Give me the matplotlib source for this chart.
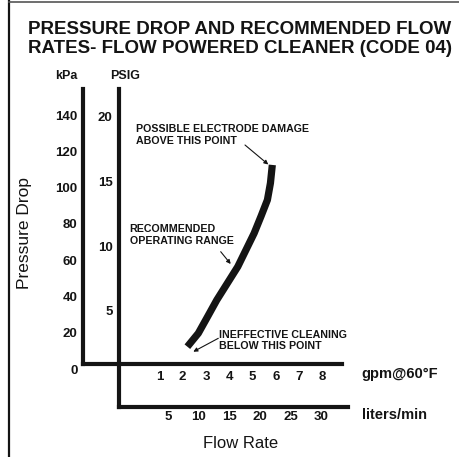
import numpy as np
import matplotlib.pyplot as plt

plt.rcParams['font.family'] = ['Liberation Sans', 'DejaVu Sans']

W, H = 459, 457

# pressure drop curve
flow_gpm = [2.20, 2.67, 3.06, 3.46, 3.92, 4.36, 4.71, 5.06, 5.36, 5.63, 5.76, 5.84]
drop_kpa = [12.3, 19.7, 28.7, 38.0, 47.4, 56.4, 65.6, 74.8, 84.3, 93.2, 102.5, 112.5]

kpa_ticks = [0, 20, 40, 60, 80, 100, 120, 140]
psi_ticks = [5, 10, 15, 20]
gpm_ticks = [1, 2, 3, 4, 5, 6, 7, 8]
lpm_ticks = [5, 10, 15, 20, 25, 30]

title = "PRESSURE DROP AND RECOMMENDED FLOW\nRATES- FLOW POWERED CLEANER (CODE 04)"
notes = ["POSSIBLE ELECTRODE DAMAGE\nABOVE THIS POINT",
         "RECOMMENDED\nOPERATING RANGE",
         "INEFFECTIVE CLEANING\nBELOW THIS POINT"]


def fx(x):
    return x / W


def fy(y):
    return 1 - y / H


def box(l, t, r, b):
    return [fx(l), fy(b), fx(r) - fx(l), fy(t) - fy(b)]


ink = '#141414'
fig = plt.figure(figsize=(W / 100, H / 100), dpi=100)

# PSIG / liters axes (drawn first, behind)
ax2 = fig.add_axes(box(119.3, 89, 348, 406.5))
ax2.set_xlim(-2.946, 34.38)
ax2.set_ylim(-2.44, 22.17)
ax2.set_xticks(lpm_ticks)
ax2.set_yticks(psi_ticks)
ax2.tick_params(length=0, labelsize=9.5, colors=ink)
ax2.tick_params(axis='x', pad=3)
ax2.tick_params(axis='y', pad=4.8)
for s in ['top', 'right']:
    ax2.spines[s].set_visible(False)
for s in ['left', 'bottom']:
    ax2.spines[s].set_linewidth(3)
    ax2.spines[s].set_color(ink)
ax2.patch.set_alpha(0)

# kPa / gpm axes
ax1 = fig.add_axes(box(82.7, 89, 342, 369))
ax1.set_xlim(-2.284, 8.826)
ax1.set_ylim(0, 154.36)
ax1.set_xticks(gpm_ticks)
ax1.set_yticks(kpa_ticks)
ax1.tick_params(length=0, labelsize=9.5, colors=ink)
ax1.tick_params(axis='x', pad=4.8)
ax1.tick_params(axis='y', pad=3.7)
for s in ['top', 'right']:
    ax1.spines[s].set_visible(False)
for s in ['left', 'bottom']:
    ax1.spines[s].set_linewidth(3)
    ax1.spines[s].set_color(ink)
ax1.spines['bottom'].set_position(('data', 2.76))
ax1.spines['left'].set_bounds(2.76, 154.36)
ax1.patch.set_alpha(0)

for a in (ax1, ax2):
    for lab in a.get_xticklabels() + a.get_yticklabels():
        lab.set_fontweight('bold')

ax1.plot(flow_gpm, drop_kpa, color=ink, lw=5.2, solid_capstyle='butt',
         solid_joinstyle='round')

# texts
fig.text(fx(240), fy(39), title, ha='center', va='center', fontsize=13.5,
         fontweight='bold', linespacing=1.15, color=ink)
fig.text(fx(66), fy(76), "kPa", ha='center', va='center', fontsize=9,
         fontweight='bold', color=ink)
fig.text(fx(125), fy(76), "PSIG", ha='center', va='center', fontsize=9,
         fontweight='bold', color=ink)
fig.text(fx(25), fy(233), "Pressure Drop", rotation=90, ha='center',
         va='center', fontsize=12.5, color=ink)
fig.text(fx(241), fy(444), "Flow Rate", ha='center', va='center',
         fontsize=12, color=ink)
fig.text(fx(361.7), fy(374.3), "gpm@60°F", ha='left', va='center',
         fontsize=10.5, fontweight='bold', color=ink)
fig.text(fx(361.7), fy(415), "liters/min", ha='left', va='center',
         fontsize=10.5, fontweight='bold', color=ink)

note_pos = [(136, 135.3), (129.5, 234.7), (219.3, 340.5)]
for txt, (x, y) in zip(notes, note_pos):
    fig.text(fx(x), fy(y), txt, ha='left', va='center', fontsize=7.7,
             fontweight='bold', linespacing=1.2, color=ink)

arrows = [((245, 145), (268.3, 164.5)),
          ((220.7, 251.7), (230.7, 264)),
          ((218.3, 338.3), (193.3, 351.7))]
for (x0, y0), (x1, y1) in arrows:
    fig.add_artist(plt.Annotation('', xy=(fx(x1), fy(y1)), xytext=(fx(x0), fy(y0)),
                                  xycoords='figure fraction',
                                  arrowprops=dict(arrowstyle='-|>', lw=0.8,
                                                  color=ink, mutation_scale=6,
                                                  shrinkA=0, shrinkB=0)))

# frame lines of the scanned page
fig.add_artist(plt.Line2D([fx(8.7), fx(8.7)], [0, 1], color=ink, lw=1.6))
fig.add_artist(plt.Line2D([fx(8.7), 1], [fy(2), fy(2)], color='#555555', lw=1.2))

fig.savefig('out.png', dpi=100)
